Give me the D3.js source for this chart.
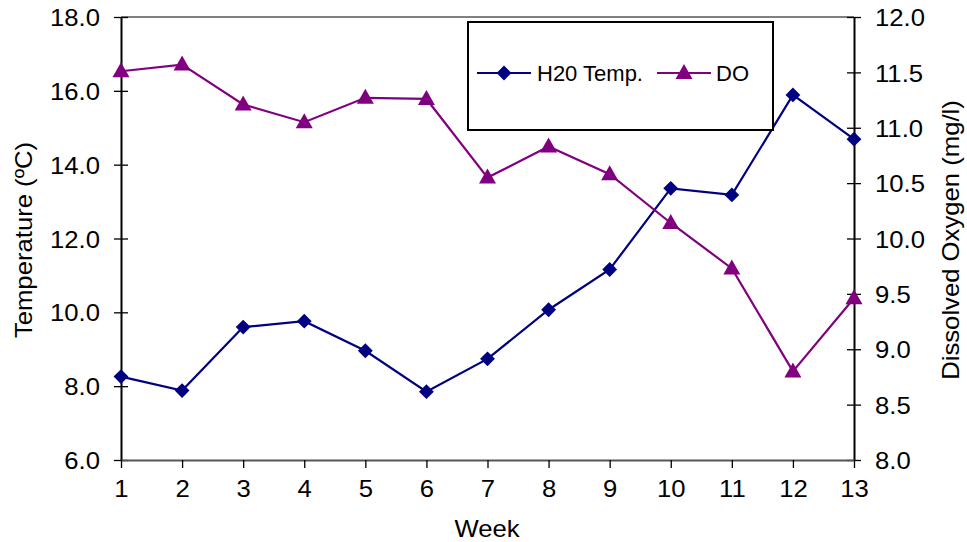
<!DOCTYPE html>
<html><head><meta charset="utf-8">
<script src="https://cdn.jsdelivr.net/npm/d3@7"></script>
<style>body{margin:0;background:#fff}svg{display:block;font-family:"Liberation Sans",Arial,sans-serif}</style>
</head><body><svg id="c" width="967" height="542"></svg>
<script>
const weeks = [1,2,3,4,5,6,7,8,9,10,11,12,13];
const tempValues = [8.26,7.88,9.60,9.76,8.96,7.85,8.74,10.07,11.16,13.36,13.18,15.89,14.69];
const doValues = [11.51,11.57,11.21,11.05,11.27,11.26,10.55,10.83,10.58,10.14,9.73,8.80,9.46];
const leftTicks = [6,8,10,12,14,16,18];
const rightTicks = [8,8.5,9,9.5,10,10.5,11,11.5,12];
const seriesNames = ["H20 Temp.","DO"];

const svg = d3.select("#c");
const L=121, R=854, T=17, B=460;
const x = d3.scaleLinear().domain([1,13]).range([L,R]);
const yL = d3.scaleLinear().domain([6,18]).range([B,T]);
const yR = d3.scaleLinear().domain([8,12]).range([B,T]);
const navy="#000080", purple="#800080";
const fs=24, sx=1.07;

svg.append("line").attr("x1",L).attr("x2",R).attr("y1",T).attr("y2",T).attr("stroke","#808080").attr("stroke-width",2);

const gL = svg.append("g").attr("transform",`translate(${L},0)`)
  .call(d3.axisLeft(yL).tickValues(leftTicks).tickFormat(d3.format(".1f")).tickSizeInner(7).tickSizeOuter(0));
gL.selectAll(".tick line").attr("x2",7).attr("x1",-7);
gL.selectAll(".tick text").attr("x",0).attr("transform","translate(-21,0) scale("+sx+",1)");
const gR = svg.append("g").attr("transform",`translate(${R},0)`)
  .call(d3.axisRight(yR).tickValues(rightTicks).tickFormat(d3.format(".1f")).tickSizeInner(7).tickSizeOuter(0));
gR.selectAll(".tick line").attr("x1",-7).attr("x2",7);
gR.selectAll(".tick text").attr("x",0).attr("transform","translate(21,0) scale("+sx+",1)");
const gB = svg.append("g").attr("transform",`translate(0,${B})`)
  .call(d3.axisBottom(x).tickValues(weeks).tickFormat(d3.format("d")).tickSizeInner(8).tickSizeOuter(0));
gB.selectAll(".tick text").attr("y",0).attr("transform","translate(0,37) scale("+sx+",1)").attr("dy",0);
[gL,gR,gB].forEach(g=>{
  g.selectAll("text").attr("font-size",fs).attr("fill","#000").attr("font-family","Liberation Sans, Arial, sans-serif");
  g.selectAll("line").attr("stroke","#000").attr("stroke-width",1.3);
  g.select(".domain").attr("stroke","#000").attr("stroke-width",2);
});
gB.select(".domain").attr("stroke","#555");
gL.selectAll("text").attr("dy","0.36em");
gR.selectAll("text").attr("dy","0.36em");

svg.append("text").attr("transform",`translate(487,537) scale(${sx},1)`).attr("text-anchor","middle").attr("font-size",fs).text("Week");
svg.append("text").attr("transform",`translate(32,240) rotate(-90) scale(${sx},1)`).attr("text-anchor","middle").attr("font-size",fs).text("Temperature (ºC)");
svg.append("text").attr("transform",`translate(959,240) rotate(-90) scale(${sx},1)`).attr("text-anchor","middle").attr("font-size",fs).text("Dissolved Oxygen (mg/l)");

const lineT = d3.line().x((d,i)=>x(weeks[i])).y(d=>yL(d));
const lineD = d3.line().x((d,i)=>x(weeks[i])).y(d=>yR(d));
svg.append("path").datum(tempValues).attr("d",lineT).attr("fill","none").attr("stroke",navy).attr("stroke-width",2.2);
svg.append("path").datum(doValues).attr("d",lineD).attr("fill","none").attr("stroke",purple).attr("stroke-width",2.2);

const diamond = d3.symbol().type(d3.symbolSquare).size(110);
const tri = "M0,-9L8.5,6L-8.5,6Z";
svg.selectAll(".dm").data(tempValues).join("path").attr("class","dm")
  .attr("d",diamond).attr("fill",navy)
  .attr("transform",(d,i)=>`translate(${x(weeks[i])},${yL(d)}) rotate(45)`);
svg.selectAll(".tr").data(doValues).join("path").attr("class","tr")
  .attr("d",tri).attr("fill",purple)
  .attr("transform",(d,i)=>`translate(${x(weeks[i])},${yR(d)})`);

svg.append("rect").attr("x",468).attr("y",22).attr("width",305).attr("height",108).attr("fill","#fff").attr("stroke","#000").attr("stroke-width",2);
const ly=73;
svg.append("line").attr("x1",477).attr("x2",531).attr("y1",ly).attr("y2",ly).attr("stroke",navy).attr("stroke-width",2.2);
svg.append("path").attr("d",diamond).attr("fill",navy).attr("transform",`translate(504,${ly}) rotate(45)`);
svg.append("text").attr("x",537).attr("y",ly).attr("dy","0.36em").attr("font-size",22).text(seriesNames[0]);
svg.append("line").attr("x1",657).attr("x2",711).attr("y1",ly).attr("y2",ly).attr("stroke",purple).attr("stroke-width",2.2);
svg.append("path").attr("d",tri).attr("fill",purple).attr("transform",`translate(684,${ly})`);
svg.append("text").attr("x",716).attr("y",ly).attr("dy","0.36em").attr("font-size",22).text(seriesNames[1]);
</script></body></html>
